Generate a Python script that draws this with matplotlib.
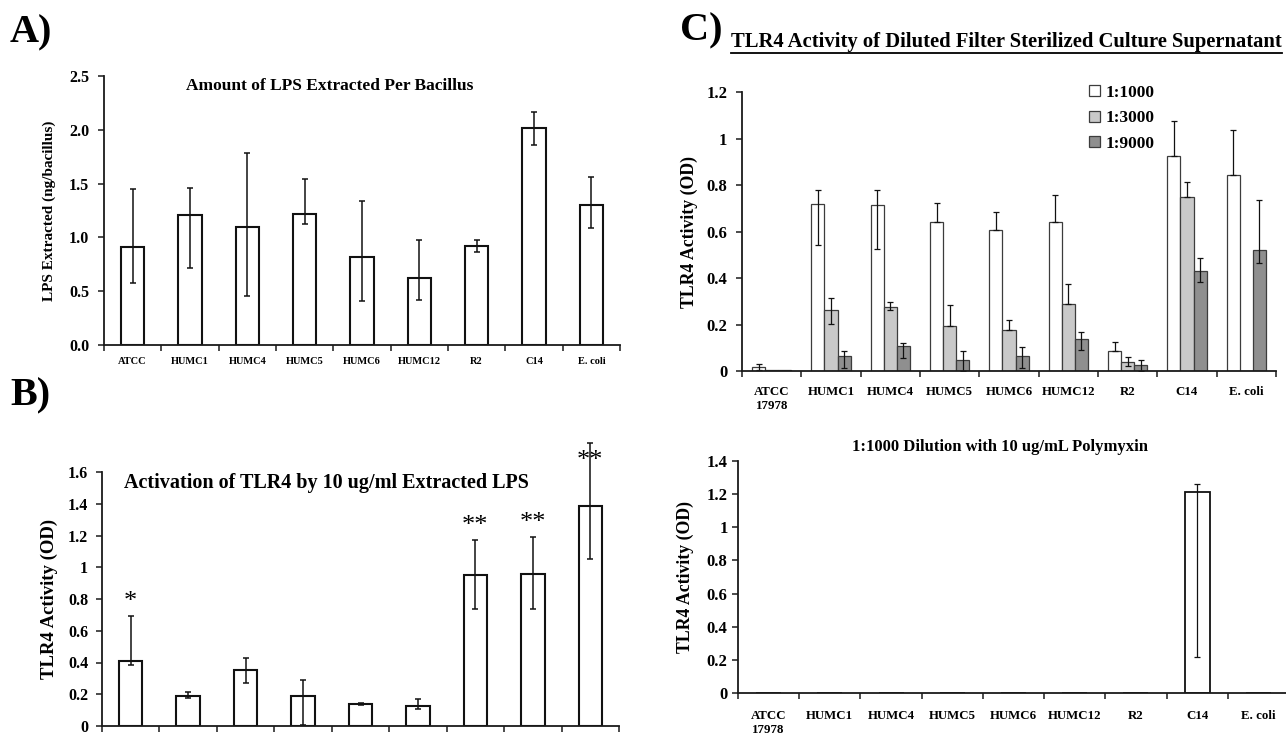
import numpy as np
import matplotlib
matplotlib.use('Agg')
import matplotlib.pyplot as plt
from matplotlib.lines import Line2D

plt.rcParams['font.family'] = ['Liberation Serif', 'DejaVu Serif']
plt.rcParams['font.weight'] = 'bold'

strains = ['ATCC', 'HUMC1', 'HUMC4', 'HUMC5', 'HUMC6', 'HUMC12', 'R2', 'C14', 'E. coli']
strains_c = ['ATCC\n17978', 'HUMC1', 'HUMC4', 'HUMC5', 'HUMC6', 'HUMC12', 'R2', 'C14', 'E. coli']

# A) LPS per bacillus (ng), bar value + error bar ends
lps = [0.91, 1.21, 1.10, 1.22, 0.82, 0.62, 0.92, 2.02, 1.30]
lps_lo = [0.58, 0.72, 0.46, 1.12, 0.41, 0.42, 0.86, 1.86, 1.09]
lps_hi = [1.45, 1.46, 1.78, 1.54, 1.34, 0.98, 0.98, 2.17, 1.56]

# B) TLR4 activation by 10 ug/ml extracted LPS
act = [0.41, 0.19, 0.35, 0.19, 0.137, 0.126, 0.95, 0.955, 1.385]
act_lo = [0.385, 0.175, 0.27, 0.006, 0.13, 0.105, 0.74, 0.735, 1.05]
act_hi = [0.69, 0.215, 0.43, 0.29, 0.143, 0.172, 1.17, 1.19, 1.78]
stars = ['*', '', '', '', '', '', '**', '**', '**']

# C) diluted culture supernatant
d1000 = [0.018, 0.717, 0.712, 0.642, 0.607, 0.643, 0.086, 0.925, 0.841]
d1000_lo = [0.005, 0.543, 0.526, 0.642, 0.607, 0.643, 0.086, 0.925, 0.841]
d1000_hi = [0.031, 0.779, 0.779, 0.723, 0.686, 0.756, 0.123, 1.074, 1.037]
d3000 = [0.003, 0.261, 0.274, 0.193, 0.175, 0.288, 0.037, 0.748, 0.0]
d3000_lo = [0.003, 0.203, 0.262, 0.193, 0.175, 0.288, 0.020, 0.748, 0.0]
d3000_hi = [0.003, 0.314, 0.295, 0.285, 0.220, 0.375, 0.059, 0.811, 0.0]
d9000 = [0.003, 0.064, 0.106, 0.046, 0.063, 0.137, 0.026, 0.432, 0.520]
d9000_lo = [0.003, 0.014, 0.056, 0.0, 0.013, 0.089, 0.0, 0.382, 0.464]
d9000_hi = [0.003, 0.086, 0.120, 0.084, 0.102, 0.166, 0.046, 0.484, 0.735]

# C bottom) 1:1000 with polymyxin
poly = [0, 0, 0, 0, 0, 0, 0, 1.215, 0]
poly_lo = [0, 0, 0, 0, 0, 0, 0, 0.215, 0]
poly_hi = [0, 0, 0, 0, 0, 0, 0, 1.26, 0]

x = np.arange(len(strains))


def setup(ax, ylim, step, fmt, ysize, ypad, xlabels=None, xsize=9, xpad=8):
    for s in ['top', 'right']:
        ax.spines[s].set_visible(False)
    for s in ['left', 'bottom']:
        ax.spines[s].set_linewidth(1.3)
        ax.spines[s].set_color('#1a1a1a')
    ax.set_xlim(-0.5, 8.5)
    ax.set_ylim(*ylim)
    yt = np.arange(0, ylim[1] + 1e-9, step)
    ax.set_yticks(yt)
    ax.set_yticklabels([fmt(v) for v in yt], fontsize=ysize, fontweight='bold')
    ax.tick_params(axis='y', length=4, width=1.1, pad=ypad, color='#1a1a1a')
    ax.set_xticks(x)
    if xlabels is None:
        ax.set_xticklabels([])
    else:
        ax.set_xticklabels(xlabels, fontsize=xsize, fontweight='bold', linespacing=1.3)
    ax.tick_params(axis='x', which='major', length=0, pad=xpad)
    ax.set_xticks(np.arange(-0.5, 9, 1), minor=True)
    ax.tick_params(axis='x', which='minor', length=4, width=1.1, color='#1a1a1a')


def errbars(ax, xs, vals, lo, hi, cap=2.5, lw=1.1, clip=True):
    vals = np.array(vals); lo = np.array(lo); hi = np.array(hi)
    m = (hi - lo) > 0
    eb = ax.errorbar(np.array(xs)[m], vals[m], yerr=[vals[m] - lo[m], hi[m] - vals[m]],
                     fmt='none', ecolor='#111111', elinewidth=lw, capsize=cap, capthick=lw)
    if not clip:
        for a in list(eb.lines[1]) + list(eb.lines[2]):
            a.set_clip_on(False)


fig = plt.figure(figsize=(12.86, 7.37), dpi=100)

# ---- A
axA = fig.add_axes([104 / 1286, 1 - 345 / 737, 516 / 1286, 269 / 737])
axA.bar(x, lps, width=0.41, color='white', edgecolor='#111111', linewidth=1.5)
errbars(axA, x, lps, lps_lo, lps_hi)
setup(axA, (0, 2.5), 0.5, lambda v: f'{v:.1f}', 11.5, 6.5, strains, xsize=7.5, xpad=9)
axA.set_ylabel('LPS Extracted (ng/bacillus)', fontsize=11, fontweight='bold')
axA.yaxis.set_label_coords(-0.093, 0.5)
axA.text(0.438, 0.963, 'Amount of LPS Extracted Per Bacillus', transform=axA.transAxes,
         ha='center', va='center', fontsize=12.5, fontweight='bold')

# ---- B
axB = fig.add_axes([102 / 1286, 1 - 726 / 737, 517 / 1286, 254 / 737])
axB.bar(x, act, width=0.41, color='white', edgecolor='#111111', linewidth=1.5)
errbars(axB, x, act, act_lo, act_hi, clip=False)
setup(axB, (0, 1.6), 0.2, lambda v: f'{v:g}', 11.5, 6)
axB.set_ylabel('TLR4 Activity (OD)', fontsize=13.5, fontweight='bold')
axB.yaxis.set_label_coords(-0.085, 0.5)
axB.text(0.043, 0.957, 'Activation of TLR4 by 10 ug/ml Extracted LPS', transform=axB.transAxes,
         ha='left', va='center', fontsize=14.5, fontweight='bold')
for i, s in enumerate(stars):
    if s:
        axB.text(x[i], min(act_hi[i] + 0.09, 1.67), s, ha='center', va='center',
                 fontsize=19, fontweight='normal', clip_on=False)

# ---- C top
axC = fig.add_axes([742 / 1286, 1 - 371 / 737, 534 / 1286, 279 / 737])
w = 0.22
edge = '#3c3c3c'
axC.bar(x - w, d1000, width=w, color='white', edgecolor=edge, linewidth=0.9, label='1:1000')
axC.bar(x, d3000, width=w, color='#c9c9c9', edgecolor=edge, linewidth=0.9, label='1:3000')
axC.bar(x + w, d9000, width=w, color='#8f8f8f', edgecolor=edge, linewidth=0.9, label='1:9000')
errbars(axC, x - w, d1000, d1000_lo, d1000_hi, cap=2, lw=0.9)
errbars(axC, x, d3000, d3000_lo, d3000_hi, cap=2, lw=0.9)
errbars(axC, x + w, d9000, d9000_lo, d9000_hi, cap=2, lw=0.9)
setup(axC, (0, 1.2), 0.2, lambda v: f'{v:g}', 12, 6.5, strains_c, xsize=9.3, xpad=10.5)
axC.set_ylabel('TLR4 Activity (OD)', fontsize=12.8, fontweight='bold')
axC.yaxis.set_label_coords(-0.082, 0.5)
axC.legend(loc='upper left', bbox_to_anchor=(0.650, 1.026), frameon=False,
           borderpad=0, borderaxespad=0,
           handlelength=0.6, handleheight=0.6, handletextpad=0.35, labelspacing=0.55,
           prop={'weight': 'bold', 'size': 12.5})

# ---- C bottom
axD = fig.add_axes([738 / 1286, 1 - 693 / 737, 551 / 1286, 232 / 737])
axD.bar(x, poly, width=0.41, color='white', edgecolor='#111111', linewidth=1.3)
errbars(axD, x, poly, poly_lo, poly_hi, cap=2, lw=0.9)
setup(axD, (0, 1.4), 0.2, lambda v: f'{v:g}', 12, 3.5, strains_c, xsize=9.3, xpad=12)
axD.set_ylabel('TLR4 Activity (OD)', fontsize=12.8, fontweight='bold')
axD.yaxis.set_label_coords(-0.080, 0.5)
axD.text(0.4755, 1.06, '1:1000 Dilution with 10 ug/mL Polymyxin', transform=axD.transAxes,
         ha='center', va='center', fontsize=12, fontweight='bold')

# panel letters and C title
fig.text(10 / 1286, 1 - 33 / 737, 'A)', fontsize=29, fontweight='bold', va='center')
fig.text(10 / 1286, 1 - 396 / 737, 'B)', fontsize=29, fontweight='bold', va='center')
fig.text(680 / 1286, 1 - 31 / 737, 'C)', fontsize=29, fontweight='bold', va='center')
tC = fig.text(731 / 1286, 1 - 42 / 737, 'TLR4 Activity of Diluted Filter Sterilized Culture Supernatant',
              fontsize=14.9, fontweight='bold', va='center')

fig.canvas.draw()
bb = tC.get_window_extent().transformed(fig.transFigure.inverted())
fig.add_artist(Line2D([bb.x0, bb.x1], [bb.y0 - 0.002, bb.y0 - 0.002], color='black',
                      linewidth=1.3, transform=fig.transFigure))

fig.savefig('out.png', dpi=100)
